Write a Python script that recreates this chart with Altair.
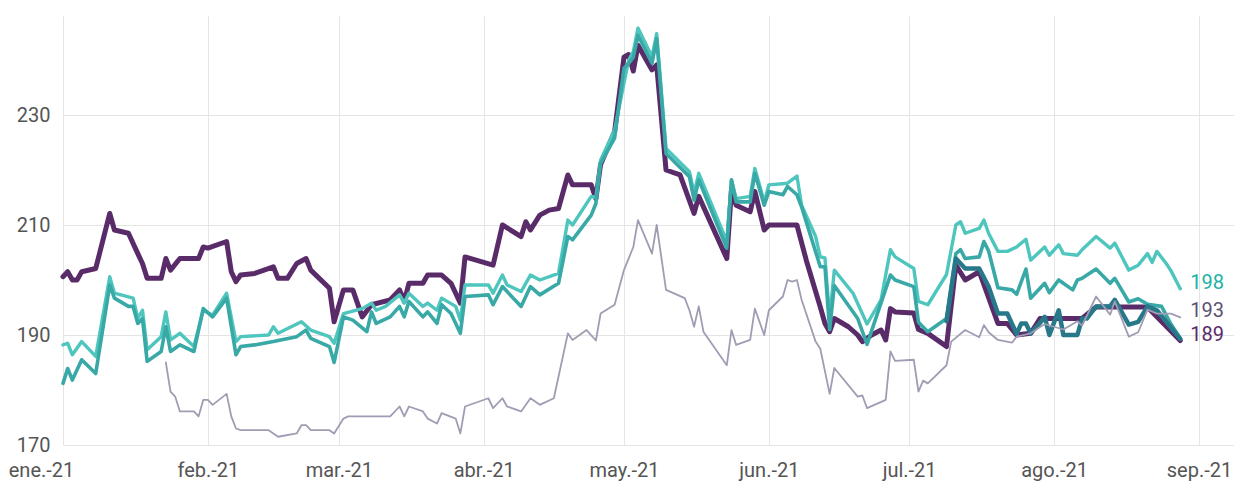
import altair as alt
import pandas as pd

# ---------------- data ----------------
purple_dates = ["01-01","01-02","01-03","01-04","01-05","01-08","01-11","01-12","01-15","01-17","01-18","01-19","01-22","01-23","01-24","01-26","01-30","01-31",
                "02-01","02-05","02-06","02-07","02-08","02-11","02-15","02-16","02-18","02-20","02-22","02-23","02-27","02-28",
                "03-02","03-04","03-06","03-08","03-12","03-14","03-15","03-16","03-19","03-20","03-23","03-25","03-27","03-28",
                "04-03","04-05","04-09","04-10","04-11","04-13","04-15","04-17","04-19","04-20","04-24","04-25","04-26","04-29",
                "05-01","05-02","05-03","05-04","05-07","05-08","05-10","05-13","05-16","05-17","05-23","05-24","05-25","05-28","05-29","05-31",
                "06-01","06-07","06-09","06-12","06-13","06-14","06-15","06-18","06-20","06-21","06-23","06-25","06-26","06-27","06-28",
                "07-02","07-03","07-05","07-09","07-11","07-13","07-16","07-20","07-22","07-24","07-27","07-29",
                "08-07","08-10","08-21","08-23","08-28"]
purple_vals = [200.6,201.5,200.0,200.0,201.5,202.1,212.1,209.1,208.5,204.8,203.0,200.3,200.3,203.9,201.8,203.9,203.9,206.0,
               205.8,207.0,201.5,199.7,200.9,201.2,202.4,200.3,200.3,203.0,203.9,201.8,198.5,192.4,
               198.2,198.2,193.3,195.5,196.4,198.2,196.1,199.4,199.4,200.9,200.9,199.4,195.8,204.2,
               202.7,210.0,207.9,210.6,209.1,211.8,212.7,213.0,219.1,217.3,217.3,214.8,221.0,227.0,
               240.5,241.0,238.0,242.7,238.2,239.1,220.0,219.1,212.1,215.2,203.9,216.4,213.6,212.4,216.1,209.1,
               210.0,210.0,203.6,195.1,192.1,190.6,193.0,191.5,190.0,188.8,190.0,190.9,189.1,194.8,194.2,
               194.0,191.0,190.3,187.9,202.7,200.0,201.5,192.1,192.1,190.0,190.3,193.0,
               193.0,195.1,195.1,193.3,189.0]

light_dates = ["01-01","01-02","01-03","01-05","01-08","01-11","01-12","01-16","01-17","01-18","01-19","01-22","01-23","01-24","01-26","01-29","01-31",
               "02-02","02-05","02-07","02-08","02-14","02-15","02-16","02-21","02-23","02-27","02-28",
               "03-02","03-06","03-08","03-09","03-11","03-14","03-15","03-16","03-19","03-20","03-22","03-23","03-26","03-27","03-28",
               "04-02","04-03","04-05","04-06","04-09","04-11","04-13","04-17","04-19","04-20","04-24","04-25","04-26","04-29",
               "05-02","05-03","05-04","05-07","05-08","05-10","05-15","05-16","05-17","05-23","05-24","05-25","05-28","05-29","05-31",
               "06-01","06-05","06-07","06-08","06-11","06-12","06-13","06-14","06-15","06-19","06-22","06-25","06-27","06-28",
               "07-02","07-03","07-05","07-09","07-11","07-12","07-13","07-16","07-17","07-18","07-20","07-22","07-24","07-26","07-27","07-30","07-31",
               "08-02","08-03","08-06","08-07","08-10","08-13","08-14","08-17","08-19","08-21","08-22","08-23","08-25","08-26","08-28"]
light_vals = [188.2,188.5,186.4,188.8,186.1,200.6,197.6,196.7,193.0,194.5,187.3,189.7,194.2,189.1,190.3,187.9,194.5,
              193.6,197.6,188.8,189.7,190.0,191.5,190.3,192.4,190.9,189.7,188.5,
              193.9,194.8,195.8,194.5,195.2,197.3,195.8,197.6,195.2,195.8,194.5,196.7,195.2,192.7,199.1,
              199.1,197.6,200.9,199.1,197.9,200.9,200.0,201.2,210.9,210.0,215.2,215.0,221.8,227.3,
              240.0,241.5,245.8,240.6,244.8,223.9,219.7,215.8,219.4,207.0,218.2,214.8,215.2,220.3,214.2,
              217.3,217.6,218.9,213.6,207.9,204.2,204.0,193.0,201.8,197.6,192.0,196.4,205.5,204.2,
              202.1,196.1,195.5,201.0,210.0,210.6,208.5,209.4,210.9,208.5,205.2,205.2,206.0,207.4,203.6,206.0,204.5,
              206.4,204.8,204.5,205.5,207.9,205.8,206.7,201.8,202.7,204.8,203.2,205.2,203.0,201.7,198.4]

mid_dates = ["01-01","01-02","01-03","01-05","01-08","01-11","01-12","01-15","01-16","01-17","01-18","01-19","01-22","01-23","01-24","01-26","01-29","01-31",
             "02-02","02-05","02-07","02-08","02-11","02-15","02-20","02-22","02-23","02-27","02-28",
             "03-02","03-04","03-07","03-08","03-09","03-12","03-14","03-15","03-16","03-19","03-20","03-22","03-23","03-25","03-27","03-28",
             "04-02","04-03","04-05","04-09","04-11","04-13","04-17","04-19","04-20","04-24","04-25","04-26","04-29",
             "05-01","05-02","05-03","05-04","05-07","05-08","05-10","05-15","05-16","05-17","05-23","05-24","05-25","05-28","05-29","05-31",
             "06-01","06-04","06-05","06-07","06-08","06-12","06-13","06-14","06-15","06-20","06-22","06-27","06-28",
             "07-02","07-03","07-05","07-09","07-11","07-12","07-13","07-16","07-17","07-18","07-20","07-23","07-24","07-26","07-27","07-30","07-31",
             "08-02","08-05","08-06","08-07","08-10","08-13","08-14","08-17","08-19","08-21","08-24","08-26","08-28"]
mid_vals = [181.2,183.9,181.8,185.5,183.0,199.1,196.7,195.2,195.2,192.1,193.0,185.2,187.0,191.5,187.0,188.2,187.0,194.8,
            193.3,196.7,186.4,187.9,188.2,188.8,189.7,190.9,189.4,187.9,185.0,
            193.3,192.7,190.6,194.2,192.1,193.3,195.2,193.3,196.1,193.3,194.2,192.1,195.5,193.9,190.3,197.0,
            197.3,195.5,198.8,195.2,198.8,197.3,199.4,207.9,207.3,211.8,213.9,221.2,225.8,
            238.5,239.4,240.5,244.5,239.4,243.9,223.0,218.8,214.5,218.2,205.8,218.2,214.2,214.2,219.4,213.6,
            216.1,215.5,217.0,215.5,213.3,202.4,202.4,191.0,199.0,193.0,188.3,200.9,200.0,
            198.8,192.3,190.6,193.0,204.8,205.5,203.9,204.2,207.0,205.3,198.6,198.2,197.4,202.0,196.7,199.4,197.7,
            200.0,198.2,200.0,200.3,202.0,199.4,200.3,196.0,196.6,195.6,195.2,192.0,189.4]

dark_dates = ["07-09","07-11","07-13","07-16","07-18","07-20","07-22","07-24","07-25","07-26","07-27","07-29","07-30","07-31",
              "08-02","08-03","08-06","08-07","08-08","08-10","08-13","08-14","08-17","08-19","08-21","08-23","08-28"]
dark_vals = [192.5,203.9,202.1,202.1,198.8,193.9,193.9,190.2,192.1,192.1,190.3,192.2,193.3,190.0,
             194.5,190.0,190.0,193.0,193.0,195.2,195.2,196.4,191.9,192.4,195.2,194.5,189.3]

grey_dates = ["01-23","01-24","01-25","01-26","01-29","01-30","01-31",
              "02-01","02-02","02-05","02-06","02-07","02-08","02-14","02-16","02-20","02-21","02-22","02-23","02-27","02-28",
              "03-02","03-03","03-12","03-14","03-15","03-16","03-19","03-20","03-22","03-23","03-26","03-27","03-28",
              "04-02","04-03","04-05","04-06","04-09","04-11","04-13","04-16","04-17","04-19","04-20","04-23","04-25","04-26","04-29",
              "05-01","05-03","05-04","05-07","05-08","05-10","05-14","05-15","05-16","05-17","05-18","05-23","05-24","05-25","05-28","05-29","05-31",
              "06-01","06-04","06-05","06-06","06-07","06-08","06-11","06-12","06-14","06-15","06-20","06-21","06-22","06-26","06-27","06-28",
              "07-02","07-03","07-04","07-05","07-09","07-10","07-13","07-16","07-17","07-18","07-20","07-23","07-24","07-27","07-30",
              "08-03","08-06","08-07","08-10","08-13","08-14","08-17","08-19","08-21","08-23","08-26","08-28"]
grey_vals = [185.0,179.7,178.8,176.1,176.1,175.2,178.2,
             178.2,177.3,179.3,175.2,173.0,172.7,172.7,171.5,172.1,173.6,173.6,172.7,172.7,172.1,
             174.8,175.2,175.2,177.0,175.2,177.0,176.1,174.8,173.9,175.8,174.8,172.1,177.0,
             178.5,176.7,178.5,177.0,176.1,178.5,177.3,178.5,182.4,190.3,189.1,190.9,189.0,193.9,195.5,
             201.8,206.0,210.9,204.8,210.0,198.2,196.7,194.5,191.5,195.2,190.6,184.5,190.9,188.2,189.1,194.8,190.0,
             194.5,197.0,200.0,199.7,200.0,196.4,188.8,187.5,179.3,184.0,178.8,179.0,176.7,178.2,187.0,185.3,
             185.5,179.7,181.7,181.2,184.5,188.8,190.9,189.6,191.8,190.5,189.1,188.6,189.7,190.3,192.0,
             191.0,192.5,191.7,197.0,193.7,196.1,189.7,190.5,194.6,193.9,193.9,193.2]

label_texts = ["198", "193", "189"]
label_vals = [198.4, 193.2, 189.0]
label_colors = ["#20b3a6", "#5b5372", "#5a2b69"]
label_date = "08-28"

month_names = ["ene.", "feb.", "mar.", "abr.", "may.", "jun.", "jul.", "ago.", "sep."]
y_ticks = [170, 190, 210, 230]


def frame(dates, vals):
    return pd.DataFrame({"date": pd.to_datetime(["2021-" + d for d in dates]), "value": vals})


labels_df = pd.DataFrame({
    "date": pd.to_datetime(["2021-" + label_date] * len(label_texts)),
    "value": label_vals,
    "text": label_texts,
    "color": label_colors,
})

FONT = "Roboto"
x_scale = alt.Scale(domain=[alt.DateTime(year=2021, month=1, date=1),
                            alt.DateTime(year=2021, month=9, date=8, hours=12)])
y_scale = alt.Scale(domain=[170, 248], nice=False, zero=False)

month_expr = "[" + ",".join("'%s'" % m for m in month_names) + "][month(datum.value)] + '-' + timeFormat(datum.value, '%y')"

x_axis = alt.Axis(
    values=[alt.DateTime(year=2021, month=m, date=1) for m in range(1, 10)],
    labelExpr=month_expr, title=None, ticks=False, domain=False, grid=True,
    gridColor="#e4e4e4", gridWidth=1, labelFontSize=20, labelFont=FONT, labelColor="#555555",
    labelPadding=15, labelFlush=False, labelOverlap=False,
    labelOffset={"condition": {"test": "month(datum.value) == 0", "value": -22}, "value": 0},
)
y_axis = alt.Axis(
    values=y_ticks, title=None, ticks=False, domain=False, grid=True,
    gridColor="#e4e4e4", gridWidth=1, labelFontSize=20, labelFont=FONT, labelColor="#555555",
    labelPadding=13,
)

X = alt.X("date:T", scale=x_scale, axis=x_axis)
Y = alt.Y("value:Q", scale=y_scale, axis=y_axis)


def line(df, color, width):
    return alt.Chart(df).mark_line(color=color, strokeWidth=width, strokeJoin="round", strokeCap="round").encode(x=X, y=Y)


purple = line(frame(purple_dates, purple_vals), "#5a2b69", 5)
light = line(frame(light_dates, light_vals), "#4ec6be", 3.4)
mid = line(frame(mid_dates, mid_vals), "#38a9a6", 3.6)
dark = line(frame(dark_dates, dark_vals), "#27798a", 4.5)
grey = line(frame(grey_dates, grey_vals), "#a19cb4", 1.8)

labels = alt.Chart(labels_df).mark_text(align="left", baseline="alphabetic", dx=10, fontSize=20, font=FONT).encode(
    x=X, y=Y,
    text="text:N",
    color=alt.Color("color:N", scale=None),
)

chart = alt.layer(purple, light, mid, dark, grey, labels).properties(
    width=1171, height=429,
    autosize=alt.AutoSizeParams(type="none"),
    padding={"left": 55, "top": 8, "right": 0, "bottom": 40},
).configure(font=FONT).configure_view(stroke=None)

chart.save("out.html", embed_options={"renderer": "svg", "actions": False})
